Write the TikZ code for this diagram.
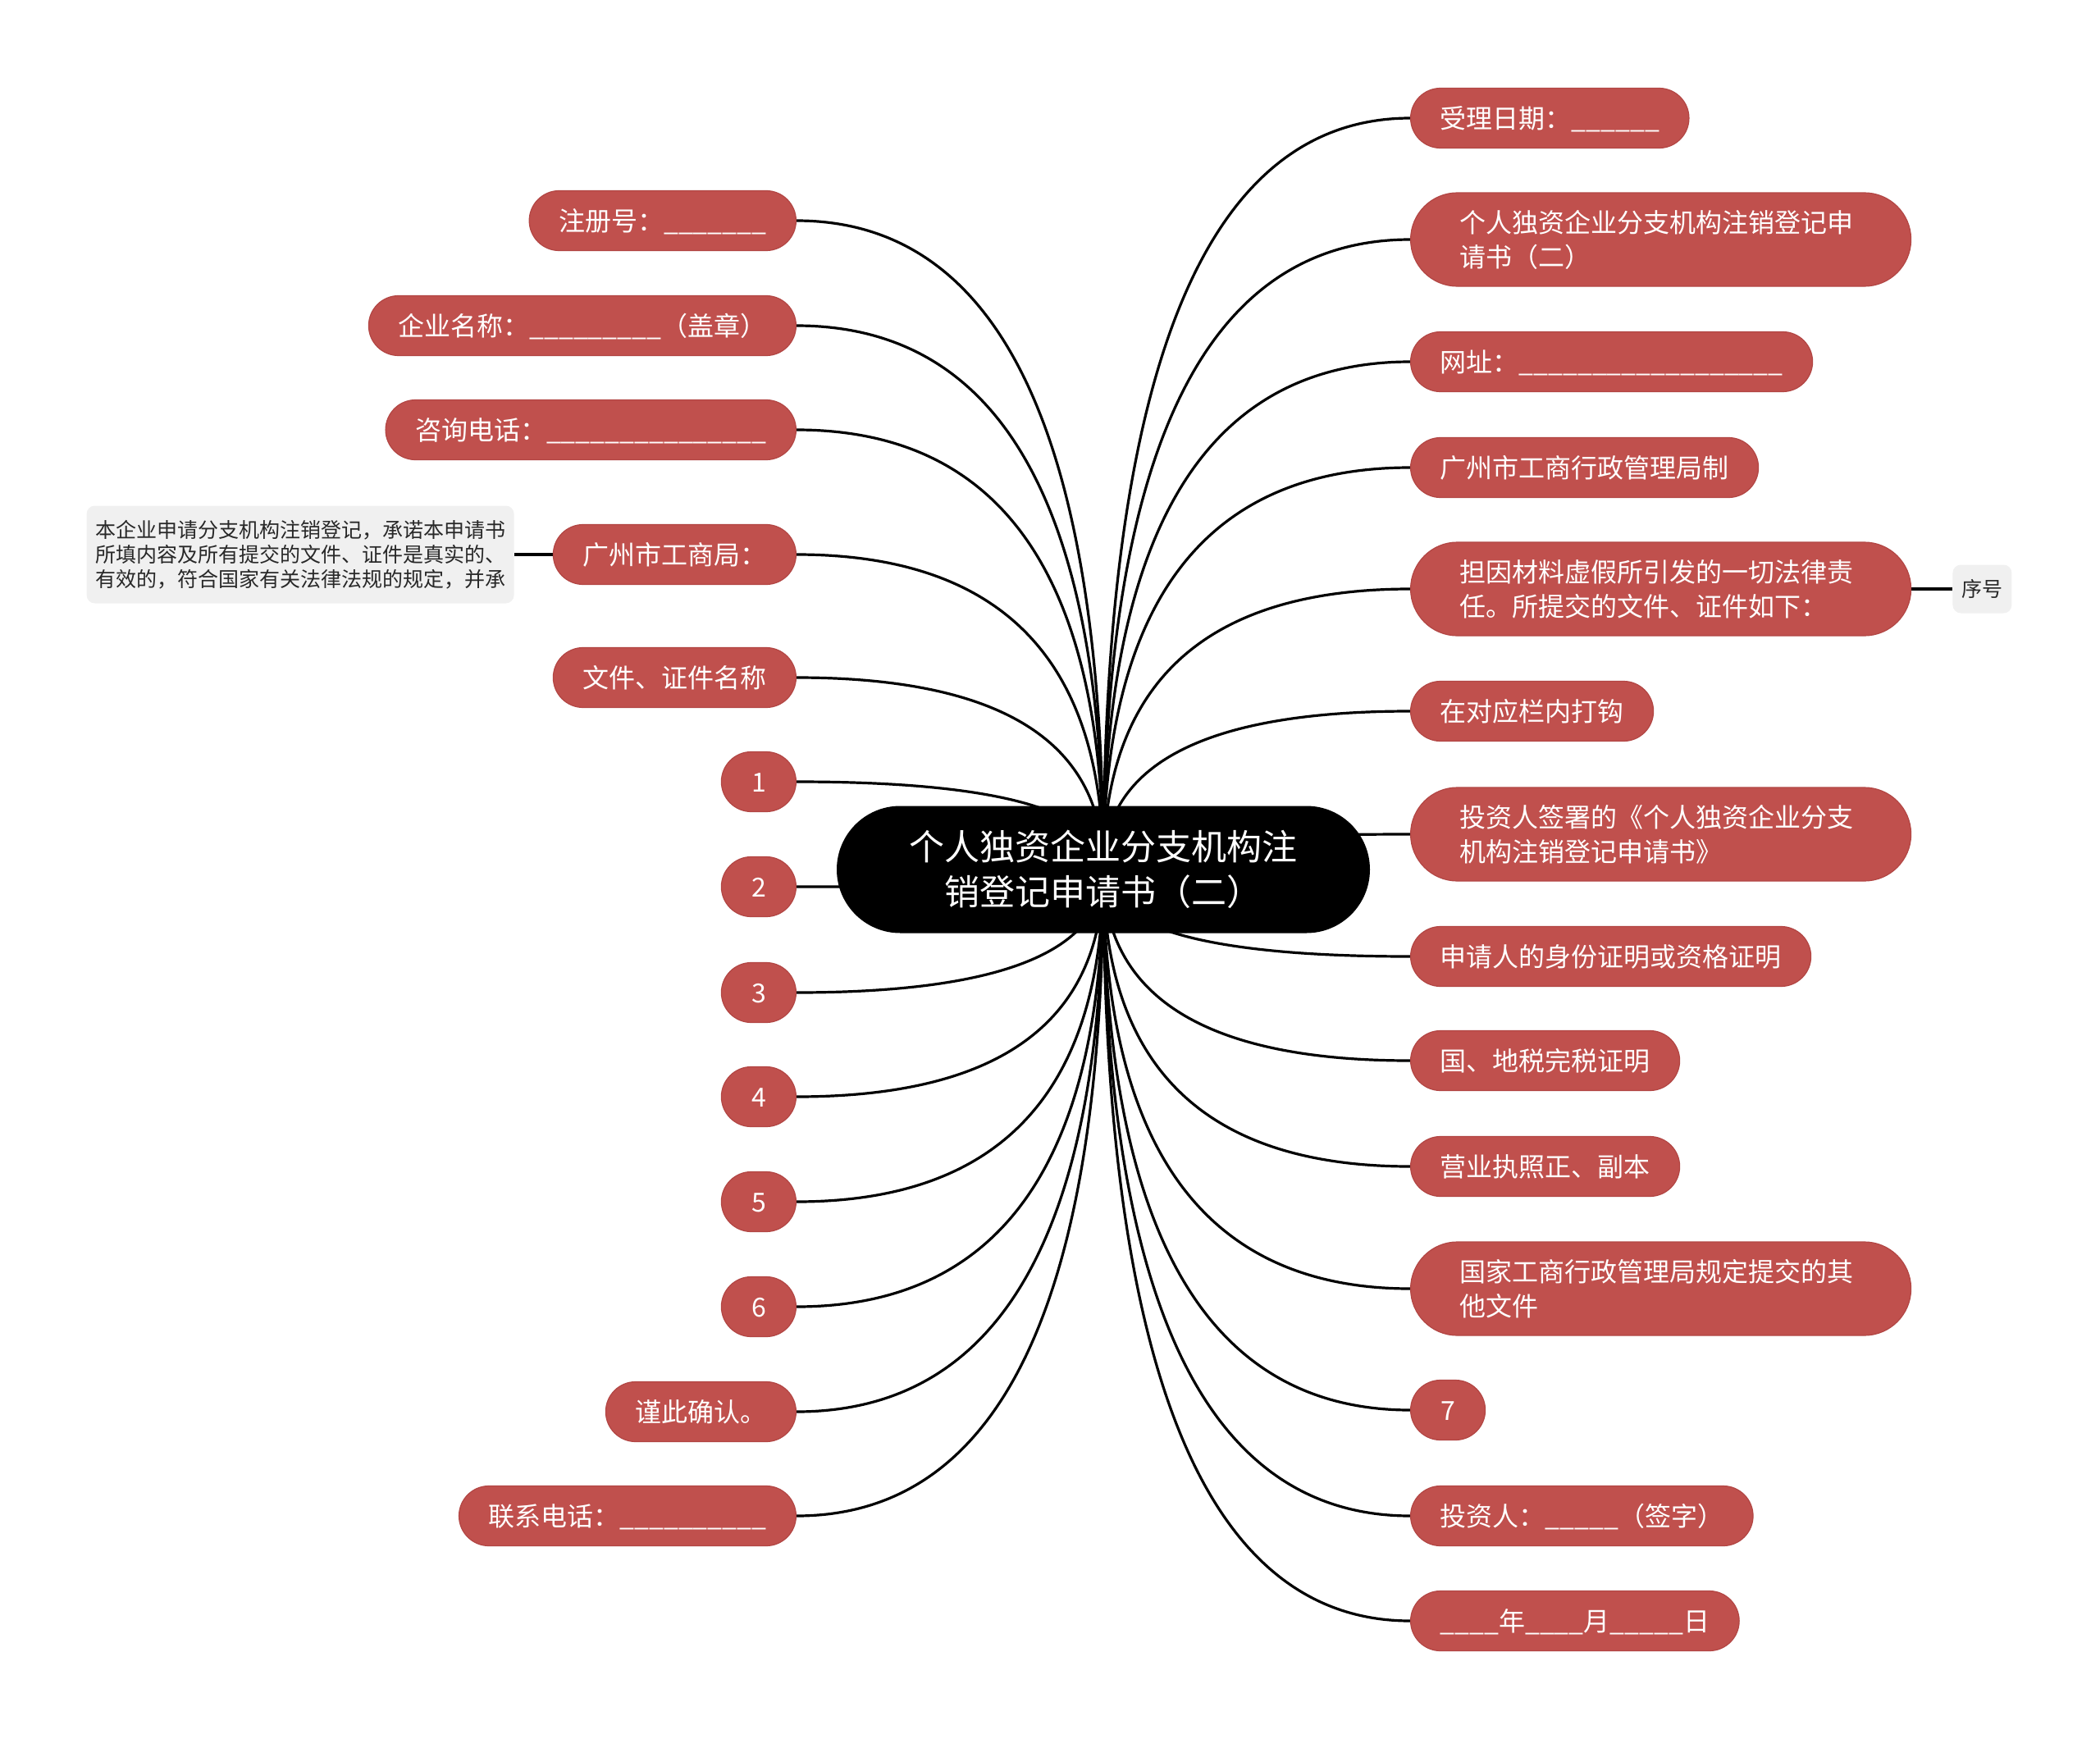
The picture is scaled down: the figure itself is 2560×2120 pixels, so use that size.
\documentclass[tikz,border=0pt]{standalone}
\usepackage{fontspec}
\setmainfont{Noto Sans CJK SC}
\usetikzlibrary{calc,backgrounds}
\definecolor{nodered}{RGB}{192,80,77}
\definecolor{noteedge}{RGB}{178,70,68}
\definecolor{notegray}{RGB}{240,240,240}
\definecolor{notetext}{RGB}{40,40,40}
\tikzset{
  base/.style={font=\fontsize{16pt}{21pt}\selectfont, text=white, fill=nodered, draw=noteedge, line width=0.6pt},
  leaf/.style={base, rounded corners=18.25pt, minimum height=36.5pt, inner xsep=18pt, inner ysep=0pt, text height=13.5pt, text depth=1.5pt},
  numleaf/.style={leaf, minimum width=45.5pt, inner xsep=0pt},
  twoline/.style={base, rounded corners=28.5pt, minimum height=57pt, inner xsep=30pt, inner ysep=0pt, text width=245pt, align=left},
  rootnode/.style={fill=black, text=white, font=\fontsize{21.5pt}{27.5pt}\selectfont, rounded corners=38.75pt, minimum width=325pt, minimum height=77.5pt, align=center, inner sep=0pt},
  notebox/.style={fill=notegray, text=notetext, font=\fontsize{12.5pt}{15pt}\selectfont, rounded corners=5pt, inner sep=0pt},
  conn/.style={line width=1.6pt, black},
}
\begin{document}
\begin{tikzpicture}[x=0.5pt, y=-0.5pt]
\useasboundingbox (0,0) rectangle (2560,2120);
\node[rootnode] (root) at (1345,1060) {个人独资企业分支机构注\\销登记申请书（二）};
% left side
\node[leaf, anchor=east] (L1) at (971,269) {注册号：\_\_\_\_\_\_\_};
\node[leaf, anchor=east] (L2) at (971,397) {企业名称：\_\_\_\_\_\_\_\_\_（盖章）};
\node[leaf, anchor=east] (L3) at (971,524) {咨询电话：\_\_\_\_\_\_\_\_\_\_\_\_\_\_\_};
\node[leaf, anchor=east] (L4) at (971,676) {广州市工商局：};
\node[leaf, anchor=east] (L5) at (971,826) {文件、证件名称};
\node[numleaf, anchor=east] (L6) at (971,953) {1};
\node[numleaf, anchor=east] (L7) at (971,1081) {2};
\node[numleaf, anchor=east] (L8) at (971,1210) {3};
\node[numleaf, anchor=east] (L9) at (971,1337) {4};
\node[numleaf, anchor=east] (L10) at (971,1465) {5};
\node[numleaf, anchor=east] (L11) at (971,1593) {6};
\node[leaf, anchor=east] (L12) at (971,1721) {谨此确认。};
\node[leaf, anchor=east] (L13) at (971,1848) {联系电话：\_\_\_\_\_\_\_\_\_\_};
\node[notebox, anchor=east, minimum width=260.5pt, minimum height=59.5pt, text width=250pt, align=left] (note) at (627,676) {本企业申请分支机构注销登记，承诺本申请书\\所填内容及所有提交的文件、证件是真实的、\\有效的，符合国家有关法律法规的规定，并承};
% right side
\node[leaf, anchor=west] (R1) at (1719,144) {受理日期：\_\_\_\_\_\_};
\node[twoline, anchor=west] (R2) at (1719,292) {个人独资企业分支机构注销登记申\\请书（二）};
\node[leaf, anchor=west] (R3) at (1719,441) {网址：\_\_\_\_\_\_\_\_\_\_\_\_\_\_\_\_\_\_};
\node[leaf, anchor=west] (R4) at (1719,570) {广州市工商行政管理局制};
\node[twoline, anchor=west] (R5) at (1719,718) {担因材料虚假所引发的一切法律责\\任。所提交的文件、证件如下：};
\node[leaf, anchor=west] (R6) at (1719,867) {在对应栏内打钩};
\node[twoline, anchor=west] (R7) at (1719,1017) {投资人签署的《个人独资企业分支\\机构注销登记申请书》};
\node[leaf, anchor=west] (R8) at (1719,1166) {申请人的身份证明或资格证明};
\node[leaf, anchor=west] (R9) at (1719,1293) {国、地税完税证明};
\node[leaf, anchor=west] (R10) at (1719,1422) {营业执照正、副本};
\node[twoline, anchor=west] (R11) at (1719,1571) {国家工商行政管理局规定提交的其\\他文件};
\node[numleaf, anchor=west] (R12) at (1719,1719) {7};
\node[leaf, anchor=west] (R13) at (1719,1848) {投资人：\_\_\_\_\_（签字）};
\node[leaf, anchor=west] (R14) at (1719,1976) {\_\_\_\_年\_\_\_\_月\_\_\_\_\_日};
\node[notebox, anchor=west, minimum width=36pt, minimum height=29.5pt] (seq) at (2380,718) {序号};
\begin{scope}[on background layer]
\foreach \n in {L1,L2,L3,L4,L5,L6,L7,L8,L9,L10,L11,L12,L13} {
  \coordinate (k\n) at (root.center |- \n.east);
  \draw[conn] (root.center) .. controls ($(root.center)!0.6667!(k\n)$) and ($(\n.east)!0.6667!(k\n)$) .. (\n.east);
}
\foreach \n in {R1,R2,R3,R4,R5,R6,R7,R8,R9,R10,R11,R12,R13,R14} {
  \coordinate (k\n) at (root.center |- \n.west);
  \draw[conn] (root.center) .. controls ($(root.center)!0.6667!(k\n)$) and ($(\n.west)!0.6667!(k\n)$) .. (\n.west);
}
\draw[conn] (L4.west) -- (note.east);
\draw[conn] (R5.east) -- (seq.west);
\end{scope}
\end{tikzpicture}
\end{document}
